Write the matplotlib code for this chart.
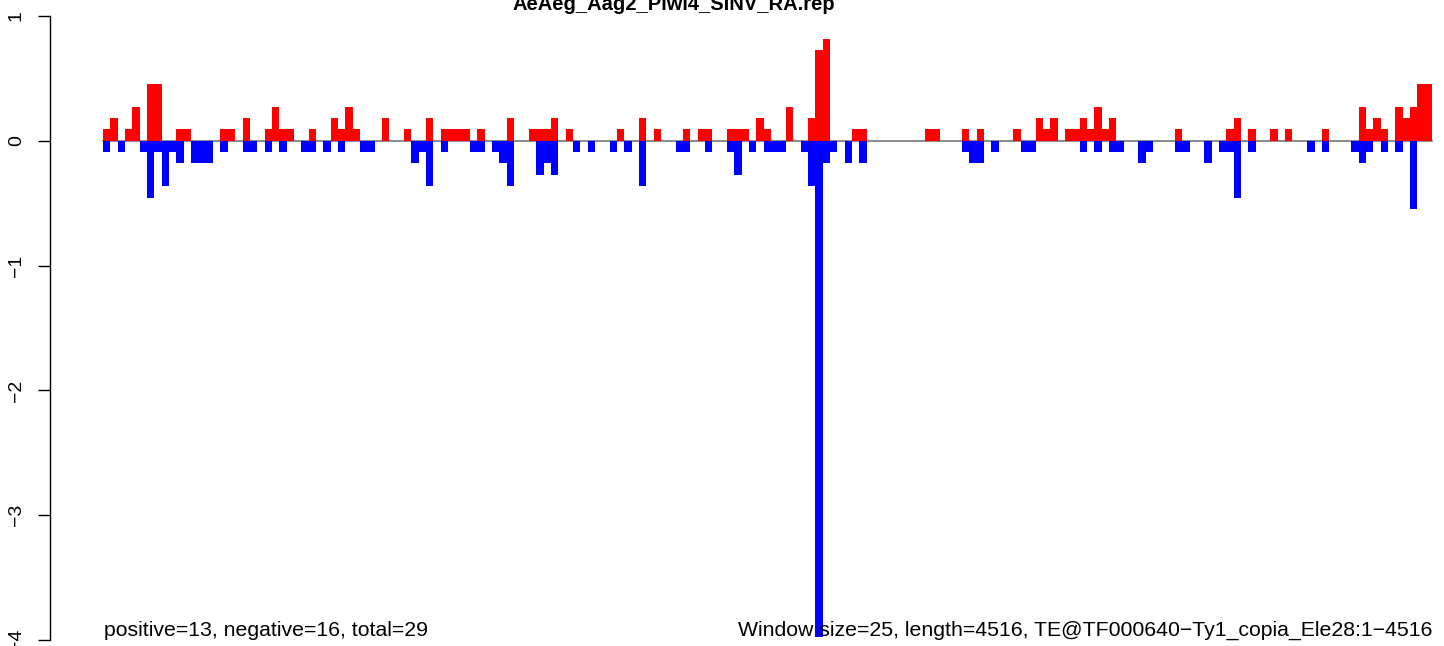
import numpy as np
import matplotlib
matplotlib.use('Agg')
import matplotlib.pyplot as plt

plt.rcParams['font.family'] = ['Liberation Sans', 'DejaVu Sans']

# the file name and the window size
title = "AeAeg_Aag2_Piwi4_SINV_RA.rep"
window = 25
length = 4516
n_bins = int(np.ceil(length / window))
unit = 1.0 / 11  # one read in the plotted scale

# read counts per window, sense strand (bin: count)
pos_counts = {0: 1, 1: 2, 3: 1, 4: 3, 6: 5, 7: 5, 10: 1, 11: 1, 16: 1, 17: 1, 19: 2,
              22: 1, 23: 3, 24: 1, 25: 1, 28: 1, 31: 2, 32: 1, 33: 3, 34: 1, 38: 2,
              41: 1, 44: 2, 46: 1, 47: 1, 48: 1, 49: 1, 51: 1, 55: 2, 58: 1, 59: 1,
              60: 1, 61: 2, 63: 1, 70: 1, 73: 2, 75: 1, 79: 1, 81: 1, 82: 1, 85: 1,
              86: 1, 87: 1, 89: 2, 90: 1, 93: 3, 96: 2, 97: 8, 98: 9, 102: 1, 103: 1,
              112: 1, 113: 1, 117: 1, 119: 1, 124: 1, 127: 2, 128: 1, 129: 2, 131: 1,
              132: 1, 133: 2, 134: 1, 135: 3, 136: 1, 137: 2, 146: 1, 153: 1, 154: 2,
              156: 1, 159: 1, 161: 1, 166: 1, 171: 3, 172: 1, 173: 2, 174: 1, 176: 3,
              177: 2, 178: 3, 179: 5, 180: 5}

# antisense strand
neg_counts = {0: 1, 2: 1, 5: 1, 6: 5, 7: 1, 8: 4, 9: 1, 10: 2, 12: 2, 13: 2, 14: 2,
              16: 1, 19: 1, 20: 1, 22: 1, 24: 1, 27: 1, 28: 1, 30: 1, 32: 1, 35: 1,
              36: 1, 42: 2, 43: 1, 44: 4, 46: 1, 50: 1, 51: 1, 53: 1, 54: 2, 55: 4,
              59: 3, 60: 2, 61: 3, 64: 1, 66: 1, 69: 1, 71: 1, 73: 4, 78: 1, 79: 1,
              82: 1, 85: 1, 86: 3, 88: 1, 90: 1, 91: 1, 92: 1, 95: 1, 96: 4, 97: 43.7,
              98: 2, 99: 1, 101: 2, 103: 2, 117: 1, 118: 2, 119: 2, 121: 1, 125: 1,
              126: 1, 133: 1, 135: 1, 137: 1, 138: 1, 141: 2, 142: 1, 146: 1, 147: 1,
              150: 2, 152: 1, 153: 1, 154: 5, 156: 1, 164: 1, 166: 1, 170: 1, 171: 2,
              172: 1, 174: 1, 176: 1, 178: 6}

pos = np.zeros(n_bins)
neg = np.zeros(n_bins)
for k, v in pos_counts.items():
	pos[k] = v * unit
for k, v in neg_counts.items():
	neg[k] = -v * unit

left_note = "positive=13, negative=16, total=29"
right_note = "Window size={}, length={}, TE@TF000640\u2212Ty1_copia_Ele28:1\u2212{}".format(window, length, length)

W, H = 1444, 646
fig = plt.figure(figsize=(W / 100, H / 100), dpi=100)

# plot region in pixels
x0, x1 = 50, 1444
y_top, y_bot = 16, 640
ax = fig.add_axes([x0 / W, 1 - y_bot / H, (x1 - x0) / W, (y_bot - y_top) / H])
ax.patch.set_alpha(0)

bar_left, bar_right = 103, 1432
px_per_bin = (bar_right - bar_left) / n_bins
ax.set_xlim(-(bar_left - x0) / px_per_bin, (x1 - bar_left) / px_per_bin)
ax.set_ylim(-4, 1)

idx = np.arange(n_bins)
ax.axhline(0, xmin=(bar_left - x0) / (x1 - x0), xmax=(bar_right - x0) / (x1 - x0),
		   color='#777777', lw=1.2, zorder=1)
ax.bar(idx, pos, width=1, align='edge', color='#ff0000', lw=0, zorder=3)
ax.bar(idx, neg, width=1, align='edge', color='#0000ff', lw=0, zorder=3)

for s in ['top', 'right', 'bottom']:
	ax.spines[s].set_visible(False)
ax.spines['left'].set_bounds(-4, 1)
ax.spines['left'].set_linewidth(1.0)
ax.set_xticks([])
ax.set_yticks(range(-4, 2))
ax.set_yticklabels([str(t).replace('-', '\u2212') for t in range(-4, 2)],
				   rotation=90, va='center', fontsize=14)
ax.tick_params(axis='y', length=9, width=1.0, pad=9)

fig.text(104 / W, 1 - 636 / H, left_note, ha='left', va='baseline', fontsize=15.3, zorder=1)
fig.text(bar_right / W, 1 - 636 / H, right_note, ha='right', va='baseline', fontsize=15.3, zorder=1)

fig.text(674 / W, 1 - 10 / H, title, ha='center', va='baseline',
		 fontsize=14.5, fontweight='bold')

plt.savefig("out.png", dpi=100)
